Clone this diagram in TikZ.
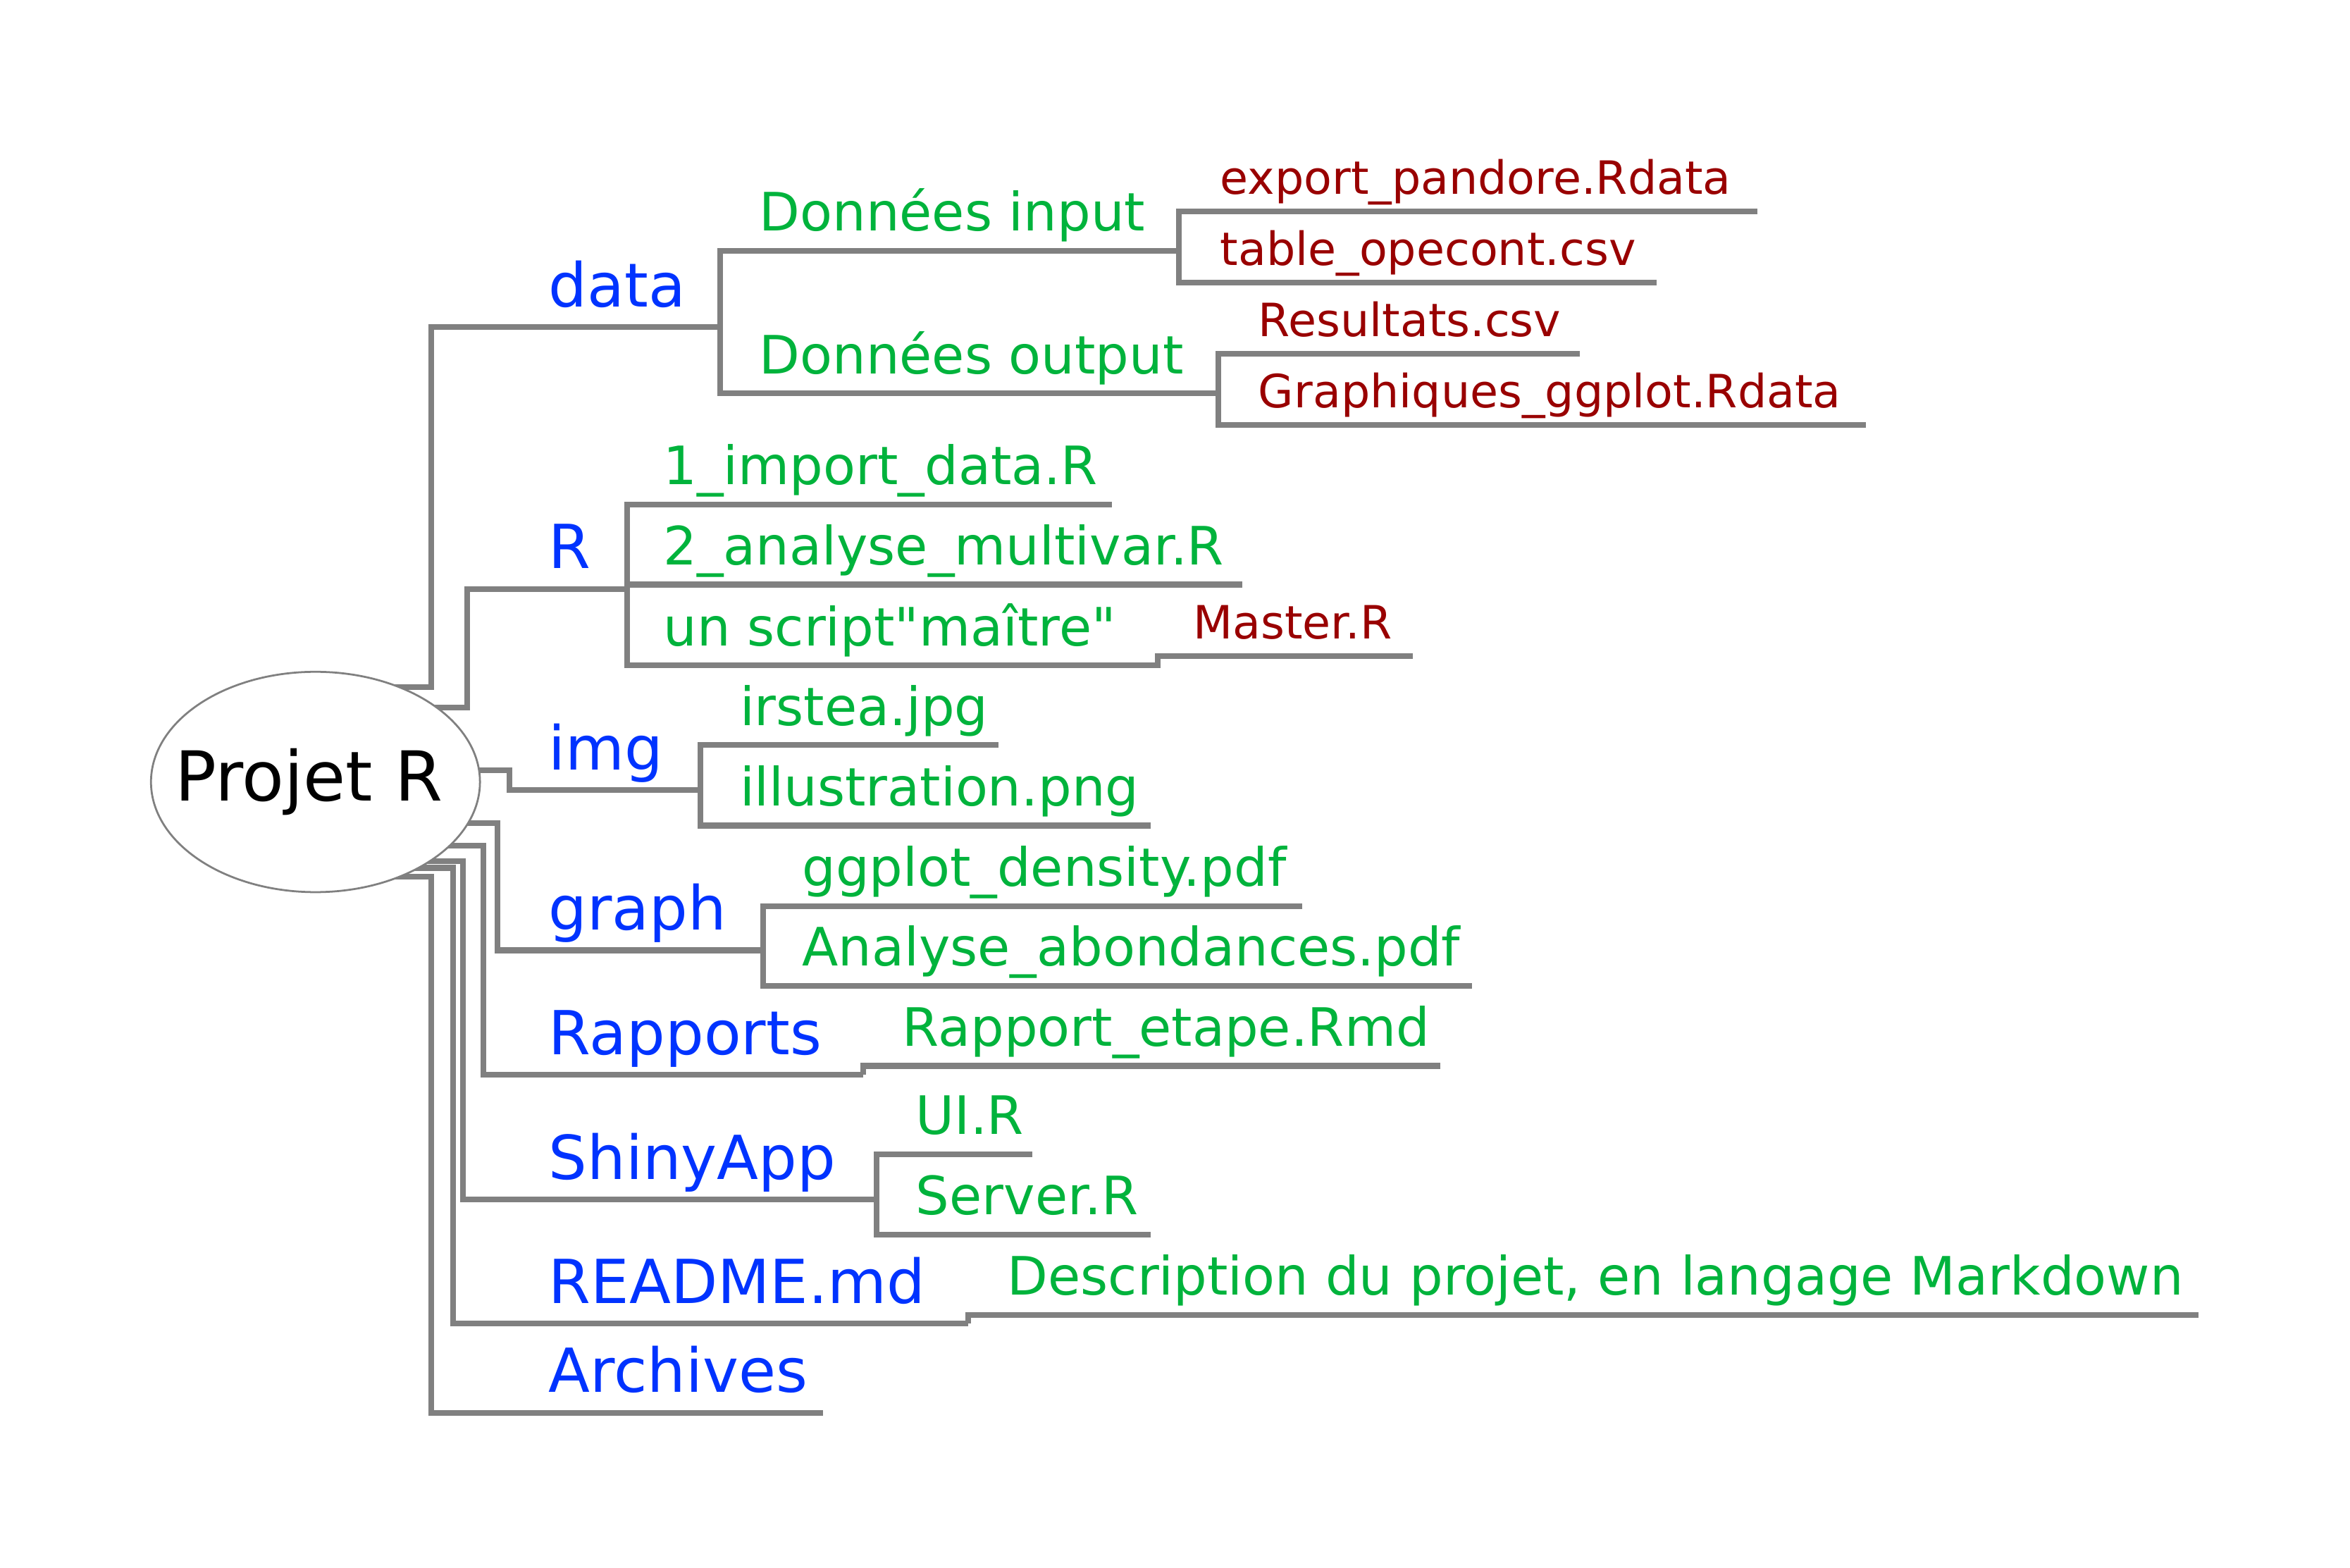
\documentclass[tikz,border=0pt]{standalone}
\usepackage{fontspec}
\setmainfont{DejaVu Sans}
\usetikzlibrary{shapes.geometric,backgrounds}
\definecolor{linegray}{RGB}{128,128,128}
\definecolor{dirblue}{RGB}{0,51,255}
\definecolor{filegreen}{RGB}{0,179,60}
\definecolor{subred}{RGB}{153,0,0}
\begin{document}
\begin{tikzpicture}[x=1pt,y=-1pt,
  conn/.style={draw=linegray, line width=3.8pt, line join=miter},
  rootnode/.style={ellipse, draw=linegray, line width=1.3pt, fill=white,
    minimum width=219.5pt, minimum height=147pt, inner sep=0pt,
    font=\fontsize{46}{47}\selectfont, text=black},
  lvlone/.style={anchor=base west, inner sep=0pt, text=dirblue,
    font=\fontsize{40.5}{41}\selectfont},
  lvltwo/.style={anchor=base west, inner sep=0pt, text=filegreen,
    font=\fontsize{35.3}{36}\selectfont},
  lvlthree/.style={anchor=base west, inner sep=0pt, text=subred,
    font=\fontsize{30.6}{31}\selectfont}]
\useasboundingbox (0,0) rectangle (1568,1046);

% root of the project tree
\node[rootnode] (P) at (210.5,521.7) {\makebox[0pt]{Projet R\hspace{9pt}}};

% first level: folders and files of the project
\node[lvlone] (data)     at (366,204.6) {data};
\node[lvlone] (R)        at (366,379.4) {R};
\node[lvlone] (img)      at (366,513.6) {img};
\node[lvlone] (graph)    at (366,620.4) {graph};
\node[lvlone] (rapports) at (366,703.5) {Rapports};
\node[lvlone] (shiny)    at (366,786.8) {ShinyApp};
\node[lvlone] (readme)   at (366,869.4) {README.md};
\node[lvlone] (archives) at (366,929.0) {Archives};

% second level
\node[lvltwo] (din)      at (506.5,154.1) {Données input};
\node[lvltwo] (dout)     at (506.5,249.2) {Données output};
\node[lvltwo] (import)   at (442.5,323.4) {1\_import\_data.R};
\node[lvltwo] (analyse)  at (442.5,376.8) {2\_analyse\_multivar.R};
\node[lvltwo] (script)   at (442.5,430.8) {un script\textquotedbl maître\textquotedbl};
\node[lvltwo] (irstea)   at (493.5,483.8) {irstea.jpg};
\node[lvltwo] (illus)    at (493.5,537.6) {illustration.png};
\node[lvltwo] (ggdens)   at (535,591.2) {ggplot\_density.pdf};
\node[lvltwo] (abond)    at (535,644.3) {Analyse\_abondances.pdf};
\node[lvltwo] (etape)    at (602,697.8) {Rapport\_etape.Rmd};
\node[lvltwo] (ui)       at (611,756.8) {UI.R};
\node[lvltwo] (server)   at (611,810.4) {Server.R};
\node[lvltwo] (desc)     at (672,864.0) {Description du projet, en langage Markdown};

% third level
\node[lvlthree] (export)   at (814,129.6) {export\_pandore.Rdata};
\node[lvlthree] (opecont)  at (814,177.0) {table\_opecont.csv};
\node[lvlthree] (resu)     at (839.5,224.4) {Resultats.csv};
\node[lvlthree] (ggrdata)  at (839.5,272.0) {Graphiques\_ggplot.Rdata};
\node[lvlthree] (master)   at (796,426.1) {Master.R};

% junctions and free ends of the underlines
\coordinate (jData)   at (480.3,218.2);
\coordinate (jR)      at (418.5,393);
\coordinate (jImg)    at (467.3,527.2);
\coordinate (jGraph)  at (509,634);
\coordinate (jShiny)  at (585,800.4);
\coordinate (eRapp)   at (576,717.1);
\coordinate (eReadme) at (646,883);
\coordinate (eArch)   at (549,942.6);

\coordinate (eDin)    at (786.6,167.4);
\coordinate (eDout)   at (812.7,262.5);
\coordinate (eExport) at (1172.8,141);
\coordinate (eOpe)    at (1105.5,188.6);
\coordinate (eResu)   at (1054,236);
\coordinate (eGgr)    at (1245,283.6);
\coordinate (eImport) at (742,336.6);
\coordinate (eAnal)   at (829,390);
\coordinate (eScript) at (772.5,444);
\coordinate (eMaster) at (942.7,437.7);
\coordinate (eIrstea) at (666.3,497);
\coordinate (eIllus)  at (767.6,550.8);
\coordinate (eGgdens) at (869,604.5);
\coordinate (eAbond)  at (982,657.6);
\coordinate (eEtape)  at (961,711.1);
\coordinate (eUI)     at (689,770);
\coordinate (eServer) at (767.6,823.7);
\coordinate (eDesc)   at (1467,877.3);

\begin{scope}[on background layer]
  % branches leaving the root
  \draw[conn] (P.center |- 0,458.4) -| (287.6,218.2) -- (jData);
  \draw[conn] (P.center |- 0,472.0) -| (311.7,393) -- (jR);
  \draw[conn] (P.center |- 0,513.7) -| (340,527.2) -- (jImg);
  \draw[conn] (P.center |- 0,549.2) -| (332,634) -- (jGraph);
  \draw[conn] (P.center |- 0,564.2) -| (322.4,717.1) -- (eRapp);
  \draw[conn] (P.center |- 0,574.4) -| (309,800.4) -- (jShiny);
  \draw[conn] (P.center |- 0,579.0) -| (302.5,883) -- (eReadme);
  \draw[conn] (P.center |- 0,585.0) -| (287.6,942.6) -- (eArch);

  % data
  \draw[conn] (eDin) -- (jData |- eDin) -- (jData |- eDout) -- (eDout);
  \draw[conn] (eExport) -- (eDin |- eExport) -- (eDin |- eOpe) -- (eOpe);
  \draw[conn] (eResu) -- (eDout |- eResu) -- (eDout |- eGgr) -- (eGgr);

  % R
  \draw[conn] (eImport) -- (jR |- eImport) -- (jR |- eScript) -- (eScript)
    -- (eScript |- eMaster) -- (eMaster);
  \draw[conn] (jR |- eAnal) -- (eAnal);

  % img
  \draw[conn] (eIrstea) -- (jImg |- eIrstea) -- (jImg |- eIllus) -- (eIllus);

  % graph
  \draw[conn] (eGgdens) -- (jGraph |- eGgdens) -- (jGraph |- eAbond) -- (eAbond);

  % Rapports
  \draw[conn] (eRapp) -- (eRapp |- eEtape) -- (eEtape);

  % ShinyApp
  \draw[conn] (eUI) -- (jShiny |- eUI) -- (jShiny |- eServer) -- (eServer);

  % README.md
  \draw[conn] (eReadme) -- (eReadme |- eDesc) -- (eDesc);
\end{scope}
\end{tikzpicture}
\end{document}
